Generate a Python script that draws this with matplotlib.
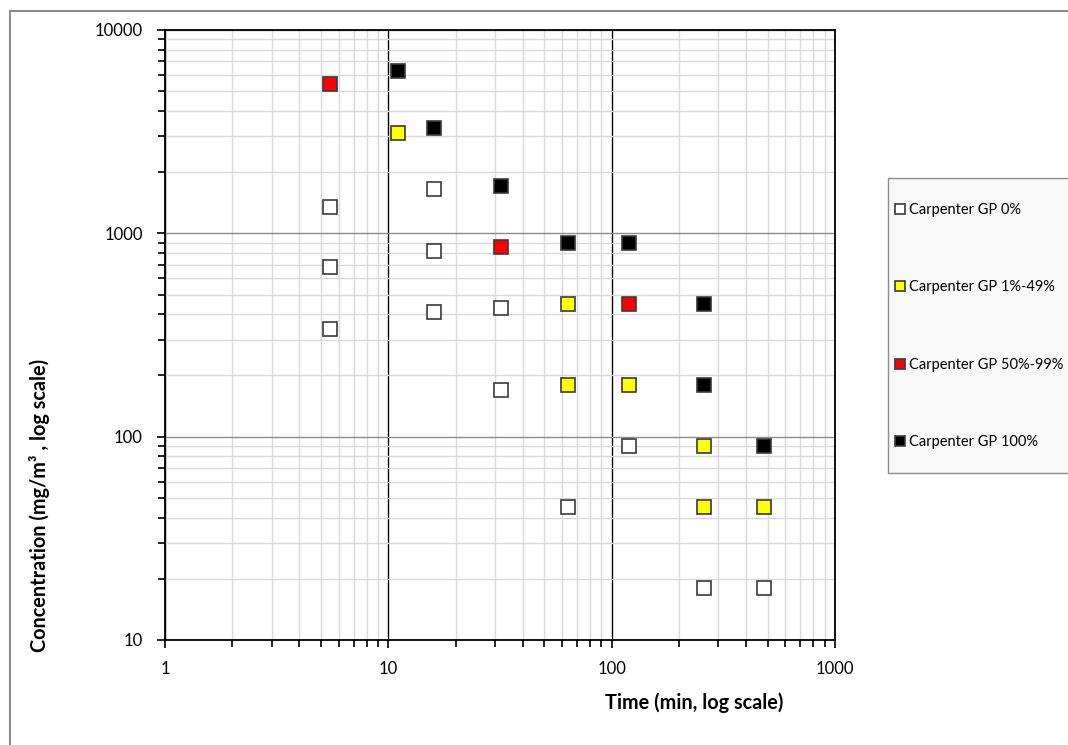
import numpy as np
import matplotlib.pyplot as plt
from matplotlib.patches import Rectangle
from matplotlib.ticker import LogLocator, NullFormatter

plt.rcParams['font.family'] = ['Lato', 'DejaVu Sans']

# data (time in min, concentration in mg/m3)
gp0_t = [5.5, 5.5, 5.5, 16, 16, 16, 32, 32, 64, 120, 260, 480]
gp0_c = [1350, 680, 340, 1650, 820, 410, 430, 170, 45, 90, 18, 18]

gp1_t = [11, 64, 64, 120, 260, 260, 480]
gp1_c = [3100, 450, 180, 180, 90, 45, 45]

gp50_t = [5.5, 32, 120]
gp50_c = [5400, 860, 450]

gp100_t = [11, 16, 32, 64, 120, 260, 260, 480]
gp100_c = [6300, 3300, 1700, 900, 900, 450, 180, 90]

labels = ["Carpenter GP 0%", "Carpenter GP 1%-49%",
          "Carpenter GP 50%-99%", "Carpenter GP 100%"]
colors = ["white", "#ffff00", "#ff0000", "black"]

W, H = 1068, 745
fig = plt.figure(figsize=(W / 100, H / 100), dpi=100)
# outer chart border
fig.patches.append(Rectangle((10 / W, -0.1), 1.2, 1 - 11 / H + 0.1,
                             transform=fig.transFigure, fill=False,
                             edgecolor="#8c8c8c", linewidth=1.5))

ax = fig.add_axes([165 / W, 1 - 640 / H, 670 / W, 610 / H])
ax.set_xscale("log")
ax.set_yscale("log")
ax.set_xlim(1, 1000)
ax.set_ylim(10, 10000)

series = [(gp0_t, gp0_c), (gp1_t, gp1_c), (gp50_t, gp50_c), (gp100_t, gp100_c)]
for (t, c), lab, col in zip(series, labels, colors):
    ax.plot(t, c, linestyle="none", marker="s", markersize=9.5,
            markerfacecolor=col, markeredgecolor="#3a3a3a",
            markeredgewidth=1.2, label=lab, zorder=5)

# ticks and grid
ax.xaxis.set_major_locator(LogLocator(base=10, numticks=10))
ax.yaxis.set_major_locator(LogLocator(base=10, numticks=10))
ax.xaxis.set_minor_locator(LogLocator(base=10, subs=np.arange(2, 10), numticks=20))
ax.yaxis.set_minor_locator(LogLocator(base=10, subs=np.arange(2, 10), numticks=20))
ax.xaxis.set_minor_formatter(NullFormatter())
ax.yaxis.set_minor_formatter(NullFormatter())
ax.xaxis.set_major_formatter(plt.FuncFormatter(lambda v, p: "%d" % v))
ax.yaxis.set_major_formatter(plt.FuncFormatter(lambda v, p: "%d" % v))

ax.grid(which="minor", color="#d9d9d9", linewidth=1.0)
ax.grid(which="major", axis="y", color="#8c8c8c", linewidth=1.0)
ax.grid(which="major", axis="x", color="black", linewidth=1.0)
ax.set_axisbelow(True)

ax.tick_params(which="both", direction="out", color="black", width=1.2)
ax.tick_params(which="major", length=6, labelsize=12, colors="black", pad=10)
ax.tick_params(which="minor", length=5)
ax.tick_params(axis="x", which="major", pad=9)
for s in ax.spines.values():
    s.set_linewidth(1.3)
    s.set_color("black")

fig.text(40 / W, 1 - 505 / H, "Concentration (mg/m\u00b3 , log scale)",
         rotation=90, ha="center", va="center", fontsize=14.3, fontweight="bold")
fig.text(694 / W, 1 - 703 / H, "Time (min, log scale)",
         ha="center", va="center", fontsize=14.3, fontweight="bold")

# legend box
fig.patches.append(Rectangle((888 / W, 1 - 473 / H), 0.2, 295 / H,
                             transform=fig.transFigure, facecolor="#f8f8f8",
                             edgecolor="#8c8c8c", linewidth=1.0, zorder=0))
leg = fig.legend(loc="upper left", bbox_to_anchor=(890 / W, 1 - 200 / H),
                 frameon=False, fontsize=10.5,
                 handletextpad=0.1, handlelength=1.0, labelspacing=4.35,
                 borderpad=0.2, borderaxespad=0, markerscale=0.8)

fig.savefig("out.png", dpi=100)
